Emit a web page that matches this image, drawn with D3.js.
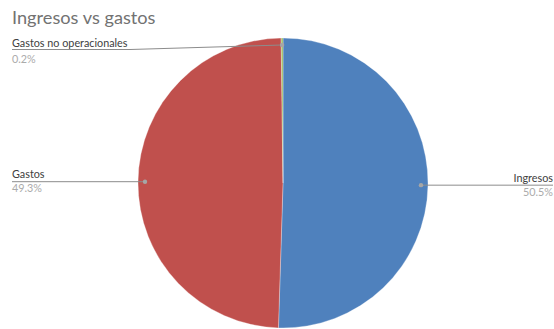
<!DOCTYPE html>
<html><head><meta charset="utf-8">
<script src="https://cdn.jsdelivr.net/npm/d3@7"></script>
<style>body{margin:0;background:#fff}svg{display:block}</style>
</head><body>
<script>
const categories = ["Ingresos", "Gastos", "Gastos no operacionales"];
const values = [50.5, 49.3, 0.2];
const percentLabels = ["50.5%", "49.3%", "0.2%"];
const colors = ["#4F81BD", "#C0504D", "#9BBB59"];
const title = "Ingresos vs gastos";

const W = 554, H = 329;
const cx = 283, cy = 183, R = 145, rDot = 138;
const font = "Lato, 'Open Sans', sans-serif";

const svg = d3.select("body").append("svg").attr("width", W).attr("height", H);
svg.append("rect").attr("width", W).attr("height", H).attr("fill", "#fff");

svg.append("text").attr("x", 12).attr("y", 23.5).attr("font-family", font)
  .attr("font-size", 18.2).attr("fill", "#727272").text(title);

const data = categories.map((c, i) => ({cat: c, value: values[i], label: percentLabels[i], color: colors[i]}));
const pie = d3.pie().value(d => d.value).sort(null);
const arcs = pie(data);
const arc = d3.arc().innerRadius(0).outerRadius(R);

const g = svg.append("g").attr("transform", `translate(${cx},${cy})`);
g.selectAll("path").data(arcs).join("path")
  .attr("d", arc).attr("fill", d => d.data.color)
  .attr("stroke", "#fff").attr("stroke-width", 0.3);

const labelCfg = {
  "Ingresos": {side: "right", x: 553, nameY: 181.5, pctY: 195.5, lineY: 185.5},
  "Gastos": {side: "left", x: 12, nameY: 178, pctY: 191.5, lineY: 181.5},
  "Gastos no operacionales": {side: "left", x: 12, nameY: 46.5, pctY: 62.5, lineY: 49.5, elbow: 130}
};

arcs.forEach(a => {
  const mid = (a.startAngle + a.endAngle) / 2;
  const px = cx + rDot * Math.sin(mid), py = cy - rDot * Math.cos(mid);
  const cfg = labelCfg[a.data.cat];
  let pts;
  if (cfg.elbow) pts = [[cfg.x, cfg.lineY], [cfg.elbow, cfg.lineY], [px, py]];
  else pts = [[cfg.x, py], [px, py]];
  svg.append("path").attr("d", d3.line()(pts)).attr("fill", "none")
    .attr("stroke", "#8c8c8c").attr("stroke-width", 1);
  svg.append("circle").attr("cx", px).attr("cy", py).attr("r", 2.2).attr("fill", "#a6a6a6");
  const anchor = cfg.side === "right" ? "end" : "start";
  svg.append("text").attr("x", cfg.x).attr("y", cfg.nameY).attr("text-anchor", anchor)
    .attr("font-family", font).attr("font-size", 10.8).attr("fill", "#404040").text(a.data.cat);
  svg.append("text").attr("x", cfg.x).attr("y", cfg.pctY).attr("text-anchor", anchor)
    .attr("font-family", font).attr("font-size", 10.8).attr("fill", "#ababab").text(a.data.label);
});
</script>
</body></html>
